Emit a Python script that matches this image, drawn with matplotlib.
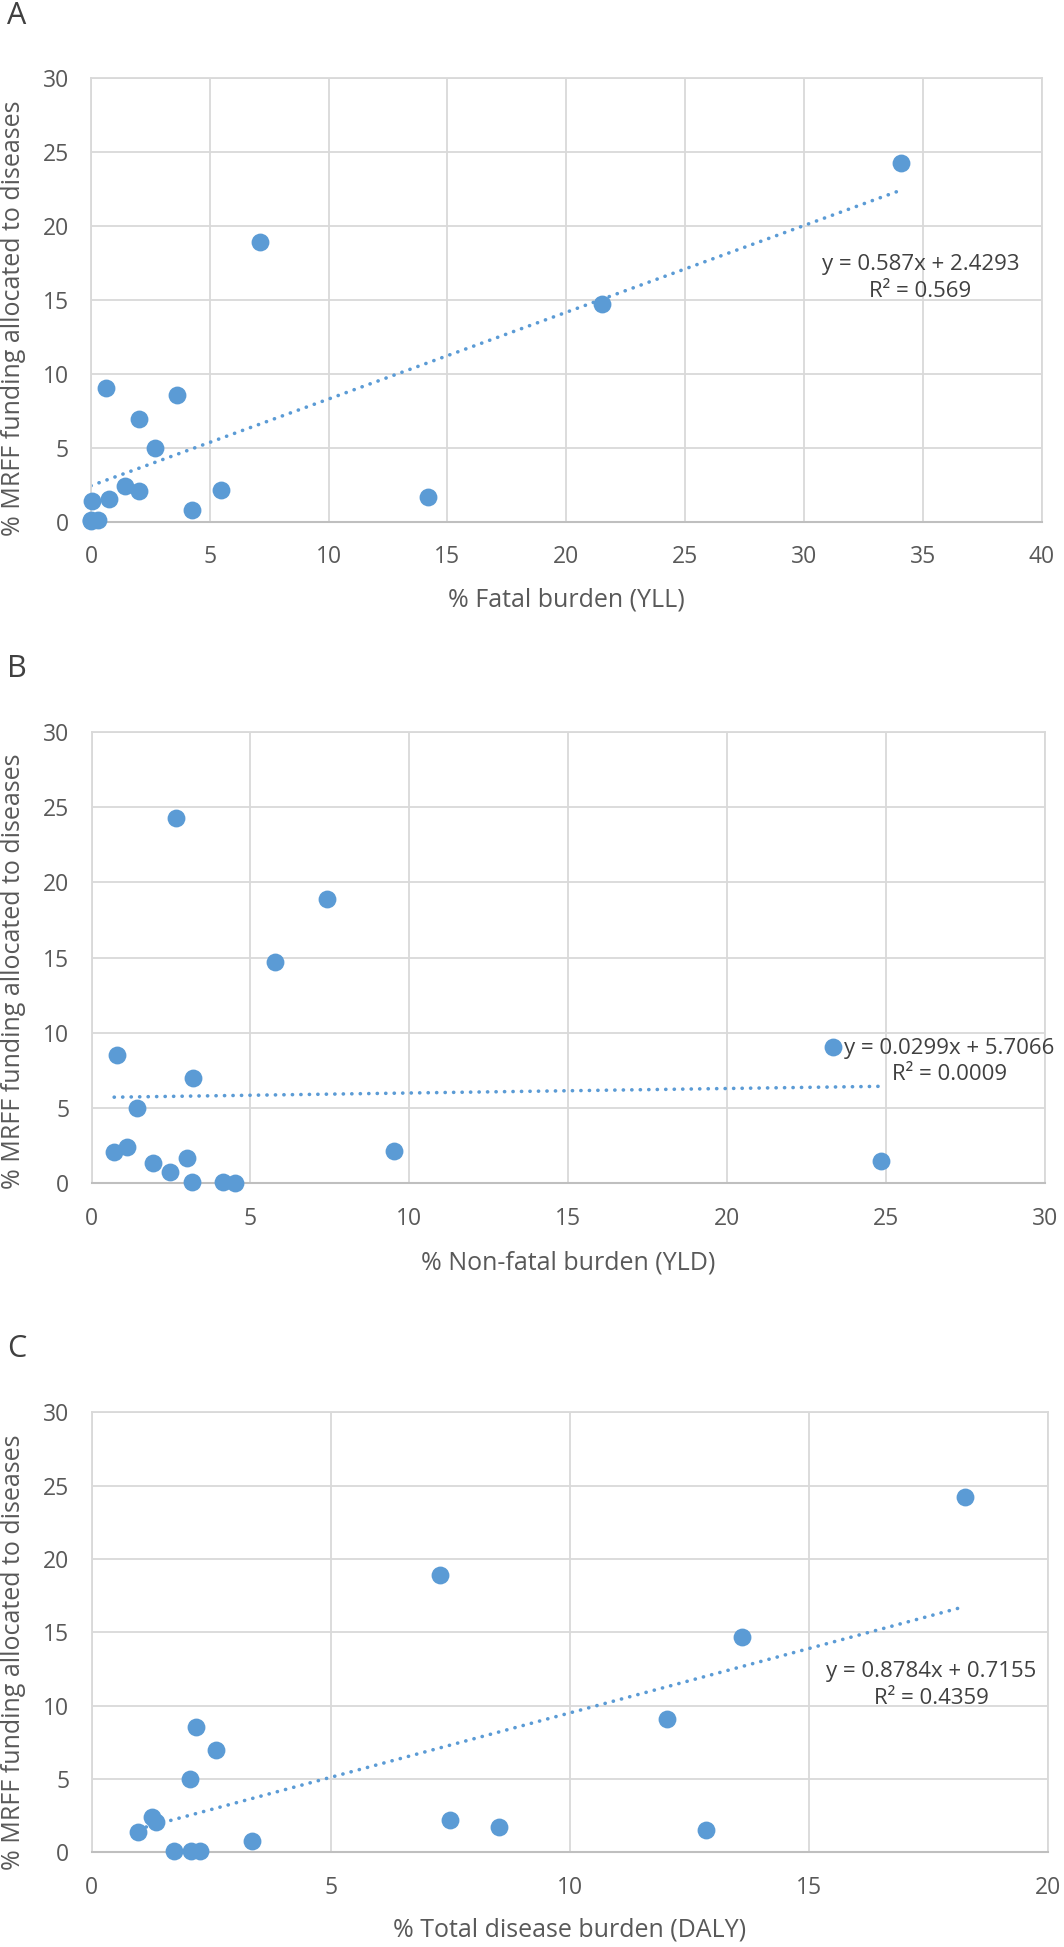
import matplotlib
matplotlib.use("Agg")
import matplotlib.pyplot as plt
import numpy as np

plt.rcParams['font.family'] = ['Open Sans', 'DejaVu Sans']

# % MRFF funding allocated to each disease (same order in every panel)
funding = [24.25, 18.9, 14.7, 9.05, 8.55, 6.97, 4.98, 2.42, 2.17, 2.08,
           1.69, 1.5, 1.37, 0.78, 0.08, 0.08, 0.05]

# x values per panel
yll = [34.08, 7.13, 21.5, 0.62, 3.61, 2.02, 2.68, 1.45, 5.48, 2.02,
       14.17, 0.74, 0.05, 4.27, 0.0, 0.3, 0.0]
yld = [2.67, 7.41, 5.77, 23.34, 0.79, 3.20, 1.42, 1.10, 9.53, 0.71,
       3.01, 24.83, 1.93, 2.48, 3.17, 4.13, 4.50]
daly = [18.26, 7.28, 13.6, 12.04, 2.19, 2.61, 2.05, 1.27, 7.50, 1.34,
        8.52, 12.85, 0.97, 3.35, 1.72, 2.08, 2.26]

# trendlines as printed on the chart
slopes = [0.587, 0.0299, 0.8784]
intercepts = [2.4293, 5.7066, 0.7155]
eq_labels = ["y = 0.587x + 2.4293\nR\u00b2 = 0.569",
             "y = 0.0299x + 5.7066\nR\u00b2 = 0.0009",
             "y = 0.8784x + 0.7155\nR\u00b2 = 0.4359"]
eq_pos = [(34.9, 16.5), (27.0, 8.1), (17.56, 11.4)]

x_titles = ["% Fatal burden (YLL)", "% Non-fatal burden (YLD)",
            "% Total disease burden (DALY)"]
x_max = [40, 30, 20]
panel_letters = ["A", "B", "C"]

W, H = 1064, 1947
# axes boxes in pixels: left, top, right, bottom
boxes = [(91, 78.4, 1041.6, 521.6),
         (91.6, 731.8, 1045, 1183.4),
         (91.6, 1412.3, 1048, 1852.2)]
ylab_y = [0.459, 0.469, 0.455]
letter_y = [16, 669, 1349]

blue = '#5B9BD5'
grid_c = '#D9D9D9'
txt_c = '#595959'

fig = plt.figure(figsize=(W / 100, H / 100), dpi=100)

for i, xs in enumerate([yll, yld, daly]):
    l, t, r, b = boxes[i]
    ax = fig.add_axes([l / W, (H - b) / H, (r - l) / W, (b - t) / H])

    ax.scatter(xs, funding, s=165, color=blue, zorder=3, linewidths=0,
               clip_on=False)

    xx = np.array([min(xs), max(xs)])
    ax.plot(xx, slopes[i] * xx + intercepts[i], color=blue, lw=2.6,
            linestyle=(0, (0.05, 2.3)), dash_capstyle='round', zorder=2)

    ax.text(eq_pos[i][0], eq_pos[i][1], eq_labels[i], ha='center', va='center',
            multialignment='center', fontsize=16, color='#404040',
            linespacing=1.35, zorder=4, clip_on=False)

    ax.set_xlim(0, x_max[i])
    ax.set_ylim(0, 30)
    ax.set_xticks(np.arange(0, x_max[i] + 1, 5))
    ax.set_yticks(np.arange(0, 31, 5))
    ax.grid(True, color=grid_c, lw=1.3, zorder=0)
    ax.set_axisbelow(True)
    for s in ['top', 'right', 'left']:
        ax.spines[s].set_color(grid_c)
        ax.spines[s].set_linewidth(1.3)
    ax.spines['bottom'].set_color('#BFBFBF')
    ax.spines['bottom'].set_linewidth(1.5)
    ax.tick_params(length=0, labelsize=16.5, labelcolor=txt_c)
    ax.tick_params(axis='x', pad=17)
    ax.tick_params(axis='y', pad=16)

    ax.set_xlabel(x_titles[i], fontsize=18, color=txt_c)
    ax.xaxis.set_label_coords(0.5, -0.177)
    ax.set_ylabel("% MRFF funding allocated to diseases", fontsize=18, color=txt_c)
    ax.yaxis.set_label_coords((14 - l) / (r - l), ylab_y[i])
    ax.xaxis.label.set_va('center')
    ax.yaxis.label.set_va('center')

    fig.text(17 / W, 1 - letter_y[i] / H, panel_letters[i], fontsize=22,
             color='#404040', ha='center', va='center')

fig.savefig("out.png", dpi=100)
